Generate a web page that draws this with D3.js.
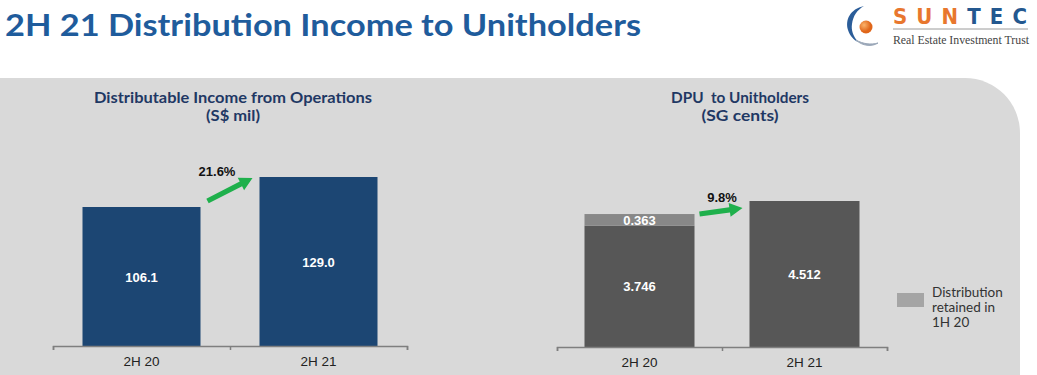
<!DOCTYPE html>
<html>
<head>
<meta charset="utf-8">
<script src="https://cdn.jsdelivr.net/npm/d3@7"></script>
<style>
  body { margin: 0; background: #fff; }
  svg { display: block; }
</style>
</head>
<body>
<svg id="container" width="1037" height="375"></svg>
<script>
// --- data ---
const categories = ["2H 20", "2H 21"];
const incomeValues = [106.1, 129.0];
const incomeGrowth = "21.6%";
const dpuValues = [3.746, 4.512];
const dpuRetained = [0.363, 0];
const dpuGrowth = "9.8%";
const legendLines = ["Distribution", "retained in", "1H 20"];

const svg = d3.select("#container");

// background panel with rounded top-right corner
svg.append("path")
	.attr("d", "M0,78 L965,78 A55,55 0 0 1 1020,133 L1020,375 L0,375 Z")
	.attr("fill", "#d9d9d9");

// page title
svg.append("text")
	.attr("x", 5).attr("y", 36)
	.attr("font-family", "Lato, 'Open Sans', sans-serif")
	.attr("font-weight", 700)
	.attr("font-size", 30)
	.attr("fill", "#1f5c9c")
	.attr("textLength", 636)
	.attr("lengthAdjust", "spacingAndGlyphs")
	.text("2H 21 Distribution Income to Unitholders");

// logo
const logo = svg.append("g");
logo.append("path")
	.attr("d", "M864,6 C850,9 845,20 848,30 C850,36 854,40 858,42 C853,36 851,30 852,24 C853,16 857,10 864,6 Z")
	.attr("fill", "#2b5d99");
logo.append("path")
	.attr("d", "M856,40 C862,46 872,47 878,43 C871,45 863,44 856,40 Z")
	.attr("fill", "#9aa7b8").attr("stroke", "#9aa7b8").attr("stroke-width", 1);
const grad = svg.append("defs").append("radialGradient").attr("id", "ball").attr("cx", "35%").attr("cy", "35%");
grad.append("stop").attr("offset", "0%").attr("stop-color", "#fbb36b");
grad.append("stop").attr("offset", "100%").attr("stop-color", "#e0661a");
logo.append("circle").attr("cx", 866).attr("cy", 27).attr("r", 6.5).attr("fill", "url(#ball)");
const brand = logo.append("text")
	.attr("x", 893).attr("y", 24)
	.attr("font-family", "'Liberation Sans Narrow', 'DejaVu Sans Condensed', sans-serif")
	.attr("font-size", 22)
	.attr("font-weight", 700)
	.attr("textLength", 134)
	.attr("lengthAdjust", "spacing");
brand.append("tspan").attr("fill", "#e8772e").text("SUN");
brand.append("tspan").attr("fill", "#24588f").text("TEC");
logo.append("line").attr("x1", 893).attr("x2", 1028).attr("y1", 29).attr("y2", 29)
	.attr("stroke", "#9a9a9a").attr("stroke-width", 1);
logo.append("text")
	.attr("x", 893).attr("y", 44)
	.attr("font-family", "'Liberation Serif', serif")
	.attr("font-size", 11.5)
	.attr("fill", "#444")
	.attr("textLength", 136)
	.attr("lengthAdjust", "spacingAndGlyphs")
	.text("Real Estate Investment Trust");

function drawPanel(opt) {
	const g = svg.append("g");

	const x = d3.scaleBand().domain(categories)
		.range([opt.x0, opt.x1])
		.paddingInner(1 / 3).paddingOuter(1 / 6);
	const y = d3.scaleLinear()
		.domain([0, d3.max(opt.values.map((v, i) => v + opt.extra[i]))])
		.range([opt.base, opt.top]);

	// titles
	opt.title.forEach((t, i) => {
		g.append("text")
			.attr("x", opt.titleX).attr("y", 103 + i * 18)
			.attr("text-anchor", "middle")
			.attr("font-family", "Lato, 'Open Sans', sans-serif")
			.attr("font-weight", 700)
			.attr("font-size", 15)
			.attr("fill", "#1f3864")
			.attr("xml:space", "preserve")
			.attr("textLength", opt.titleLen[i])
			.attr("lengthAdjust", "spacingAndGlyphs")
			.text(t);
	});

	// main bars
	g.selectAll(".bar")
		.data(opt.values)
		.enter().append("rect")
		.attr("x", (d, i) => x(categories[i]))
		.attr("y", d => y(d))
		.attr("width", x.bandwidth())
		.attr("height", d => y(0) - y(d))
		.attr("fill", opt.color);

	// stacked retained segment
	g.selectAll(".extra")
		.data(opt.extra)
		.enter().filter(d => d > 0).append("rect")
		.attr("x", (d, i) => x(categories[i]))
		.attr("y", (d, i) => y(opt.values[i] + d))
		.attr("width", x.bandwidth())
		.attr("height", (d, i) => y(opt.values[i]) - y(opt.values[i] + d))
		.attr("fill", "#888888");

	const labelFont = "'Liberation Sans', Arial, sans-serif";

	// value labels
	g.selectAll(".val")
		.data(opt.values)
		.enter().append("text")
		.attr("x", (d, i) => x(categories[i]) + x.bandwidth() / 2)
		.attr("y", d => (y(d) + y(0)) / 2 + 5)
		.attr("text-anchor", "middle")
		.attr("font-family", labelFont)
		.attr("font-weight", 700)
		.attr("font-size", 13)
		.attr("fill", "#fff")
		.text(d => opt.fmt(d));

	opt.extra.forEach((d, i) => {
		if (d <= 0) return;
		g.append("text")
			.attr("x", x(categories[i]) + x.bandwidth() / 2)
			.attr("y", (y(opt.values[i]) + y(opt.values[i] + d)) / 2 + 5)
			.attr("text-anchor", "middle")
			.attr("font-family", labelFont)
			.attr("font-weight", 700)
			.attr("font-size", 13)
			.attr("fill", "#fff")
			.text(d3.format(".3f")(d));
	});

	// axis line with boundary ticks
	const tickScale = d3.scaleLinear().domain([0, categories.length]).range([opt.x0, opt.x1]);
	g.append("g")
		.attr("transform", "translate(0," + opt.base + ")")
		.call(d3.axisBottom(tickScale).tickValues(d3.range(categories.length + 1)).tickFormat("").tickSize(4).tickSizeOuter(4))
		.call(a => a.selectAll("path, line").attr("stroke", "#7f7f7f").attr("stroke-width", 1.5));

	// category labels
	g.append("g")
		.attr("transform", "translate(0," + opt.base + ")")
		.call(d3.axisBottom(x).tickSize(0).tickPadding(10))
		.call(a => a.select(".domain").remove())
		.call(a => a.selectAll("text")
			.attr("font-family", labelFont)
			.attr("font-size", 13.5)
			.attr("fill", "#222"));

	// growth arrow
	const tot0 = opt.values[0] + opt.extra[0];
	const tx = x(categories[0]) + x.bandwidth() + opt.arrow.dx0;
	const ty = y(tot0) + opt.arrow.dy0;
	const hx = x(categories[1]) - opt.arrow.dx1;
	const hy = y(opt.values[1]) + opt.arrow.dy1;
	const ang = Math.atan2(hy - ty, hx - tx);
	const len = Math.hypot(hx - tx, hy - ty);
	const head = 13, hw = 7, sw = 2.6;
	const pts = [
		[0, -sw], [len - head, -sw], [len - head, -hw], [len, 0],
		[len - head, hw], [len - head, sw], [0, sw]
	];
	g.append("polygon")
		.attr("points", pts.map(p => p.join(",")).join(" "))
		.attr("transform", "translate(" + tx + "," + ty + ") rotate(" + (ang * 180 / Math.PI) + ")")
		.attr("fill", "#1fb04c");

	g.append("text")
		.attr("x", opt.arrow.lx).attr("y", opt.arrow.ly)
		.attr("text-anchor", "middle")
		.attr("font-family", labelFont)
		.attr("font-weight", 700)
		.attr("font-size", 13)
		.attr("fill", "#111")
		.text(opt.growth);

	return { x, y };
}

drawPanel({
	title: ["Distributable Income from Operations", "(S$ mil)"],
	titleLen: [278, 54],
	titleX: 233,
	values: incomeValues,
	extra: [0, 0],
	color: "#1c4673",
	x0: 53, x1: 407, base: 346, top: 177,
	fmt: d3.format(".1f"),
	growth: incomeGrowth,
	arrow: { dx0: 7, dy0: -6, dx1: 7, dy1: 1, lx: 217, ly: 176 }
});

drawPanel({
	title: ["DPU  to Unitholders", "(SG cents)"],
	titleLen: [138, 77],
	titleX: 740,
	values: dpuValues,
	extra: dpuRetained,
	color: "#575757",
	x0: 557, x1: 887, base: 347, top: 201,
	fmt: d3.format(".3f"),
	growth: dpuGrowth,
	arrow: { dx0: 5, dy0: 0, dx1: 7, dy1: 7, lx: 722, ly: 202 }
});

// legend
svg.append("rect")
	.attr("x", 897).attr("y", 293).attr("width", 27).attr("height", 14)
	.attr("fill", "#a5a5a5");
legendLines.forEach((t, i) => {
	svg.append("text")
		.attr("x", 932).attr("y", 297 + i * 15)
		.attr("font-family", "Lato, 'Open Sans', sans-serif")
		.attr("font-size", 13.5)
		.attr("fill", "#333")
		.text(t);
});
</script>
</body>
</html>
